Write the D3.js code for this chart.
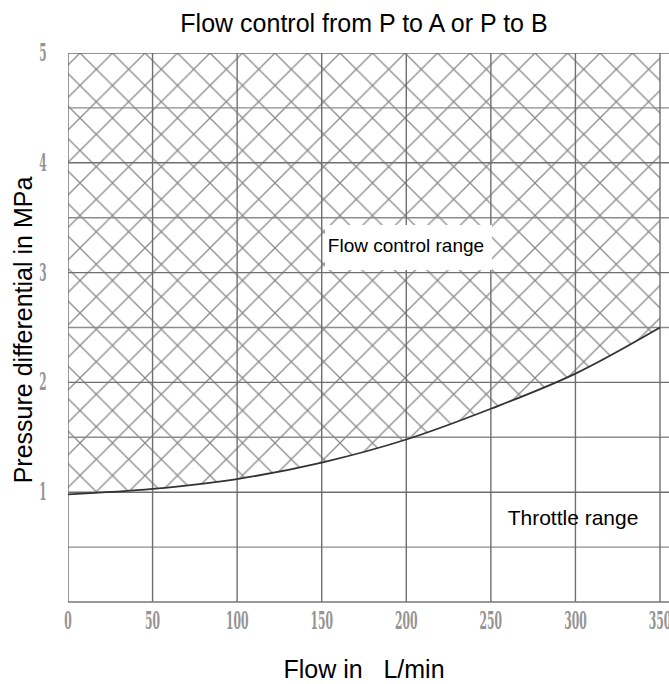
<!DOCTYPE html>
<html>
<head>
<meta charset="utf-8">
<script src="https://cdn.jsdelivr.net/npm/d3@7"></script>
<style>
  body { margin: 0; background: #fff; }
  svg { display: block; font-family: Arial, "Liberation Sans", sans-serif; }
</style>
</head>
<body>
<svg id="chart"></svg>
<script>
// Chart data
const flowTicks = [0, 50, 100, 150, 200, 250, 300, 350];
const pressureTicks = [1, 2, 3, 4, 5];
const gridPressure = [0.5, 1, 1.5, 2, 2.5, 3, 3.5, 4, 4.5, 5];
const curveFlow = [0, 50, 100, 150, 200, 250, 300, 350];
const curvePressure = [0.98, 1.03, 1.12, 1.27, 1.48, 1.76, 2.08, 2.5];

const W = 669, H = 684;
let margin = {top: 53, right: 9, bottom: 82, left: 68},
    width = W - margin.left - margin.right,
    height = H - margin.top - margin.bottom;

let svg = d3.select("#chart").attr("width", W).attr("height", H);

let x = d3.scaleLinear().domain([0, 350]).range([0, width]);
let y = d3.scaleLinear().domain([0, 5]).range([height, 0]);

// hatch pattern (cross-hatch diamonds)
let defs = svg.append("defs");
let pat = defs.append("pattern")
    .attr("id", "hatch")
    .attr("patternUnits", "userSpaceOnUse")
    .attr("x", 12).attr("y", 0)
    .attr("width", 32.5).attr("height", 32.5);
pat.append("path")
    .attr("d", "M-1,-1 L33.5,33.5 M33.5,-1 L-1,33.5")
    .attr("stroke", "#8a8a8a")
    .attr("stroke-width", 1.3)
    .attr("fill", "none");

defs.append("clipPath").attr("id", "plotClip")
  .append("rect").attr("width", width + 9).attr("height", height + 1);

let g = svg.append("g").attr("transform", `translate(${margin.left},${margin.top})`);
let plot = g.append("g").attr("clip-path", "url(#plotClip)");

const pts = curveFlow.map((f, i) => [f, curvePressure[i]]);

// hatched flow control region above the curve
plot.append("path")
    .datum(pts)
    .attr("d", d3.area()
        .x(d => x(d[0]))
        .y0(y(5))
        .y1(d => y(d[1]))
        .curve(d3.curveMonotoneX))
    .attr("fill", "url(#hatch)");

// grid lines
plot.selectAll(".hgrid")
    .data(gridPressure)
    .enter().append("line")
    .attr("x1", 0).attr("x2", width + 9)
    .attr("y1", d => y(d)).attr("y2", d => y(d))
    .attr("stroke", d => d % 1 === 0 ? "#6f6f6f" : "#8c8c8c")
    .attr("stroke-width", 1.4);

plot.selectAll(".vgrid")
    .data(flowTicks)
    .enter().append("line")
    .attr("x1", d => x(d)).attr("x2", d => x(d))
    .attr("y1", y(5)).attr("y2", y(0))
    .attr("stroke", "#6f6f6f")
    .attr("stroke-width", 1.4);

// axes baseline
g.append("line")
    .attr("x1", 0).attr("x2", width + 9)
    .attr("y1", y(0)).attr("y2", y(0))
    .attr("stroke", "#777").attr("stroke-width", 1.6);

// boundary curve
plot.append("path")
    .datum(pts)
    .attr("d", d3.line().x(d => x(d[0])).y(d => y(d[1])).curve(d3.curveMonotoneX))
    .attr("fill", "none")
    .attr("stroke", "#333")
    .attr("stroke-width", 1.8);

// tick labels (condensed, grey, serif like the scan)
g.selectAll(".xtick")
    .data(flowTicks)
    .enter().append("text")
    .attr("transform", d => `translate(${x(d)},${height + 27}) scale(0.45,1)`)
    .attr("text-anchor", "middle")
    .style("font-family", "'DejaVu Serif', serif")
    .style("font-weight", "bold")
    .style("font-size", "24px")
    .attr("fill", "#939393")
    .text(d => d);

g.selectAll(".ytick")
    .data(pressureTicks)
    .enter().append("text")
    .attr("transform", d => `translate(-25,${y(d) + 8}) scale(0.42,1)`)
    .attr("text-anchor", "middle")
    .style("font-family", "'DejaVu Serif', serif")
    .style("font-weight", "bold")
    .style("font-size", "25px")
    .attr("fill", "#939393")
    .text(d => d);

// region labels
g.append("rect")
    .attr("x", 257).attr("y", 172)
    .attr("width", 167).attr("height", 45)
    .attr("fill", "#fff");
g.append("text")
    .attr("x", 338).attr("y", 199)
    .attr("text-anchor", "middle")
    .style("font-size", "19px")
    .text("Flow control range");

g.append("text")
    .attr("x", 505).attr("y", 472)
    .attr("text-anchor", "middle")
    .style("font-size", "21px")
    .text("Throttle range");

// titles
svg.append("text")
    .attr("x", 364).attr("y", 32)
    .attr("text-anchor", "middle")
    .style("font-size", "25px")
    .text("Flow control from P to A or P to B");

svg.append("text")
    .attr("x", 364).attr("y", 678)
    .attr("text-anchor", "middle")
    .style("font-size", "25px")
    .attr("xml:space", "preserve")
    .text("Flow in   L/min");

svg.append("text")
    .attr("transform", "translate(32,330) rotate(-90)")
    .attr("text-anchor", "middle")
    .style("font-size", "25px")
    .text("Pressure differential in MPa");
</script>
</body>
</html>
